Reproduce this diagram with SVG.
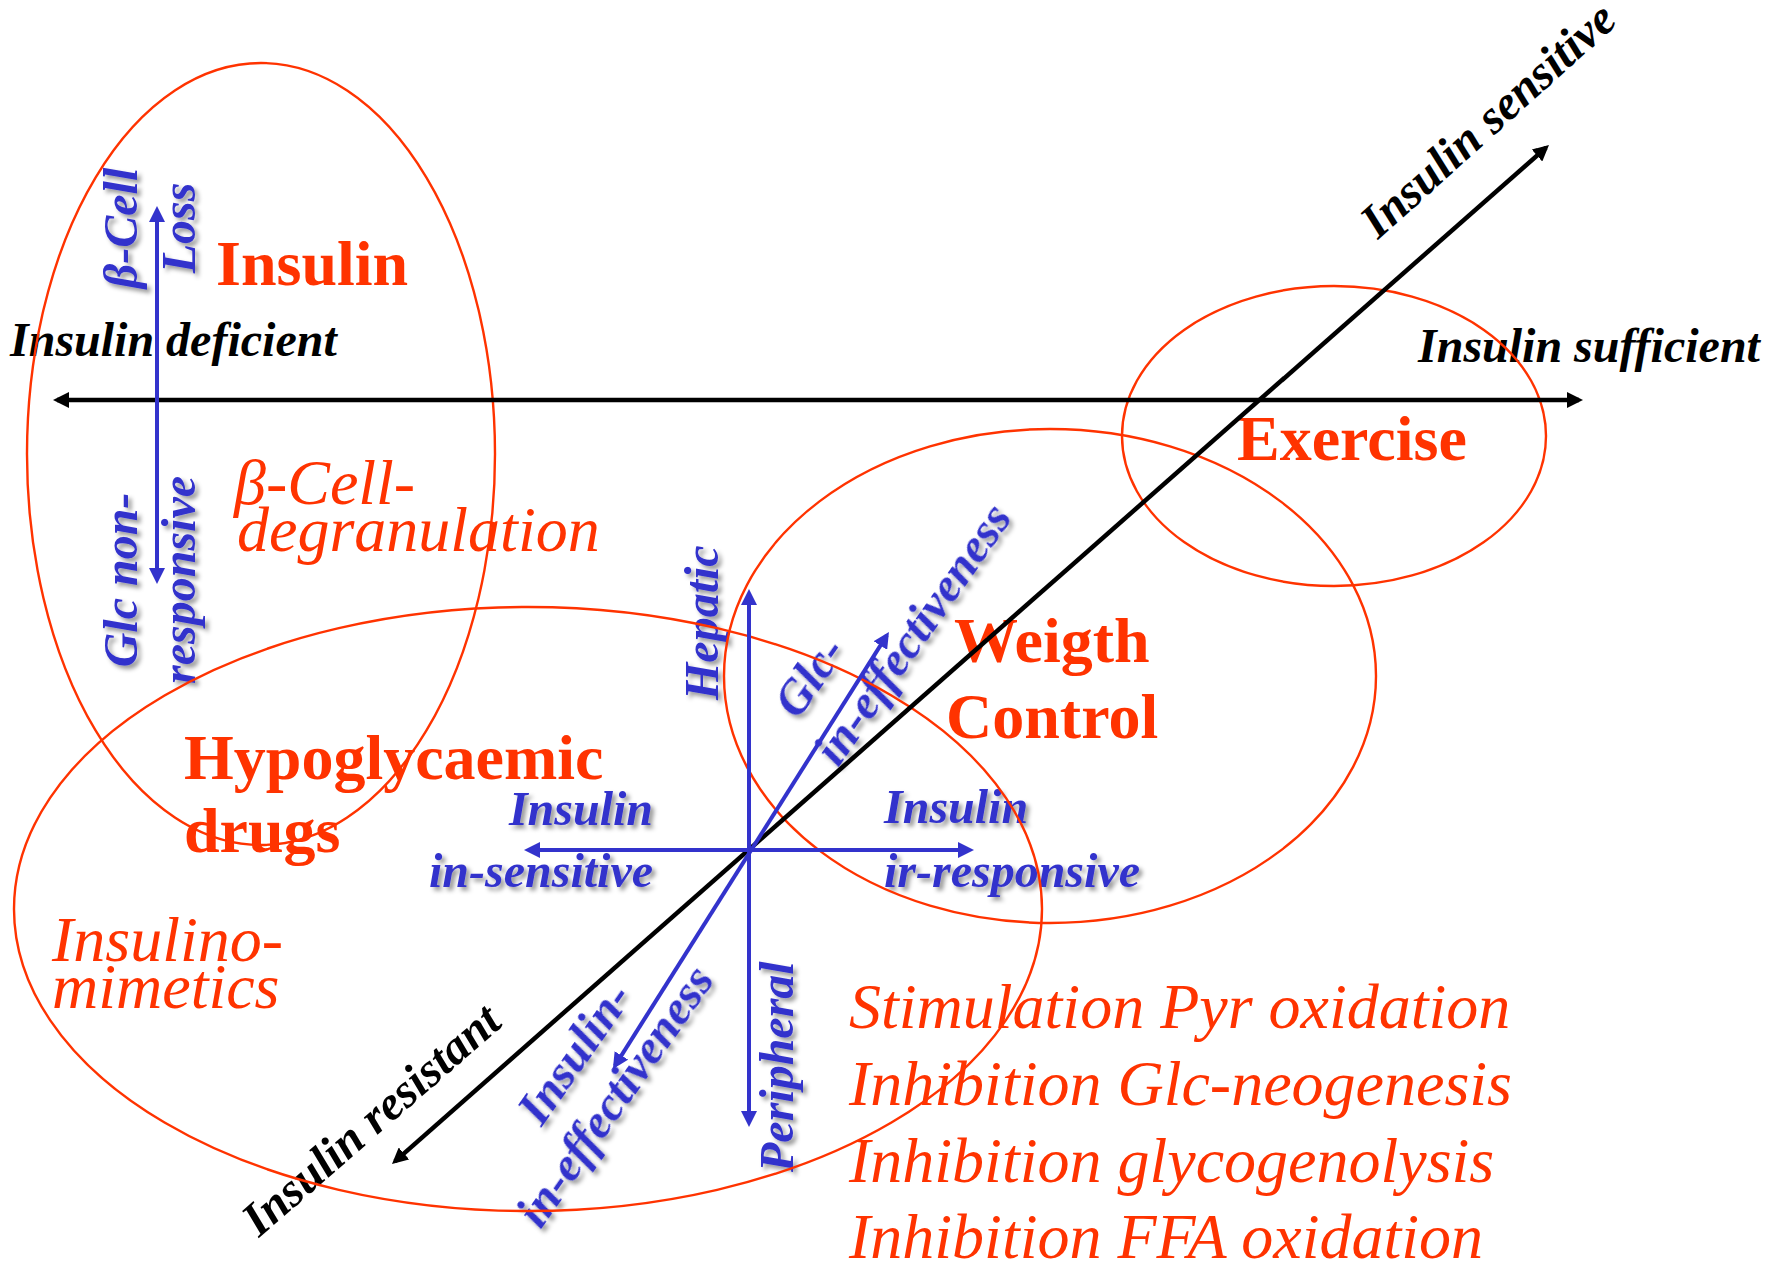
<svg xmlns="http://www.w3.org/2000/svg" width="1779" height="1263" viewBox="0 0 1779 1263">
<defs>
<style>
.bi{font-family:"Liberation Serif","Times New Roman",serif;font-weight:bold;font-style:italic;font-size:48px}
.blk{fill:#000}
.blu{fill:#3333CC}
.rb{font-family:"Liberation Serif","Times New Roman",serif;font-weight:bold;font-size:64px;fill:#FF3300}
.ri{font-family:"Liberation Serif","Times New Roman",serif;font-style:italic;font-size:64px;fill:#FF3300}
.ell{fill:none;stroke:#FF3300;stroke-width:2.4}
.ax{stroke:#000;stroke-width:4.5;fill:none}
.bl{stroke:#3333CC;stroke-width:4;fill:none}
</style>
<marker id="ak" viewBox="0 0 16 16" refX="12" refY="8" markerWidth="16" markerHeight="16" markerUnits="userSpaceOnUse" orient="auto-start-reverse"><path d="M0,0 L16,8 L0,16 z" fill="#000"/></marker>
<marker id="ab" viewBox="0 0 16 16" refX="12" refY="8" markerWidth="16" markerHeight="16" markerUnits="userSpaceOnUse" orient="auto-start-reverse"><path d="M0,0 L16,8 L0,16 z" fill="#3333CC"/></marker>
<filter id="sh" x="-20%" y="-20%" width="140%" height="140%"><feDropShadow dx="3.5" dy="3.5" stdDeviation="2" flood-color="#000" flood-opacity="0.4"/></filter>
</defs>
<rect width="1779" height="1263" fill="#fff"/>

<g id="axis-labels">
<text class="bi blk" x="10" y="356">Insulin deficient</text>
<text class="bi blk" x="1418" y="362">Insulin sufficient</text>
<text class="bi blk" transform="translate(1378,240) rotate(-42)">Insulin sensitive</text>
<text class="bi blk" transform="translate(259,1238) rotate(-41)">Insulin resistant</text>
</g>

<g id="blue-labels" filter="url(#sh)">
<g transform="translate(137,228) rotate(-90)" text-anchor="middle">
<text class="bi blu" x="0" y="0">β-Cell</text>
<text class="bi blu" x="0" y="58">Loss</text>
</g>
<g transform="translate(137,580) rotate(-90)" text-anchor="middle">
<text class="bi blu" x="0" y="0">Glc non-</text>
<text class="bi blu" x="0" y="58">responsive</text>
</g>
<text class="bi blu" transform="translate(718,700) rotate(-90)">Hepatic</text>
<text class="bi blu" transform="translate(793,1172) rotate(-90)">Peripheral</text>
<g transform="translate(838,768) rotate(-55)">
<text class="bi blu" x="16" y="-60">Glc-</text>
<text class="bi blu" x="0" y="0">in-effectiveness</text>
</g>
<g transform="translate(628,1105) rotate(-55)" text-anchor="middle">
<text class="bi blu" x="12" y="-58">Insulin-</text>
<text class="bi blu" x="0" y="0">in-effectiveness</text>
</g>
<g text-anchor="end">
<text class="bi blu" x="653" y="825">Insulin</text>
<text class="bi blu" x="653" y="887">in-sensitive</text>
</g>
<text class="bi blu" x="884" y="823">Insulin</text>
<text class="bi blu" x="884" y="887">ir-responsive</text>
</g>

<g id="node-insulin">
<ellipse class="ell" cx="261" cy="454" rx="234" ry="391"/>
<text class="rb" x="216" y="285">Insulin</text>
<text class="ri" x="234" y="504">β-Cell-</text>
<text class="ri" x="237" y="551">degranulation</text>
</g>

<g id="node-hypoglycaemic">
<ellipse class="ell" cx="528" cy="909" rx="514" ry="302"/>
<text class="rb" x="184" y="779">Hypoglycaemic</text>
<text class="rb" x="184" y="852">drugs</text>
<text class="ri" x="52" y="961">Insulino-</text>
<text class="ri" x="52" y="1008">mimetics</text>
</g>

<g id="node-weight">
<ellipse class="ell" cx="1050" cy="676" rx="326" ry="247"/>
<text class="rb" x="954" y="662">Weigth</text>
<text class="rb" x="946" y="738">Control</text>
</g>

<g id="node-exercise">
<ellipse class="ell" cx="1334" cy="436" rx="212" ry="150"/>
<text class="rb" x="1237" y="460">Exercise</text>
</g>

<g id="effects">
<text class="ri" x="849" y="1028">Stimulation Pyr oxidation</text>
<text class="ri" x="849" y="1105">Inhibition Glc-neogenesis</text>
<text class="ri" x="849" y="1182">Inhibition glycogenolysis</text>
<text class="ri" x="849" y="1258">Inhibition FFA oxidation</text>
</g>

<g id="connectors">
<line class="ax" x1="57" y1="400" x2="1579" y2="400" marker-start="url(#ak)" marker-end="url(#ak)"/>
<line class="ax" x1="395" y1="1161.4" x2="1546" y2="147.6" marker-start="url(#ak)" marker-end="url(#ak)"/>
<line class="bl" x1="157" y1="210" x2="157" y2="580" marker-start="url(#ab)" marker-end="url(#ab)"/>
<line class="bl" x1="749" y1="593" x2="749" y2="1123" marker-start="url(#ab)" marker-end="url(#ab)"/>
<line class="bl" x1="528" y1="850" x2="970" y2="850" marker-start="url(#ab)" marker-end="url(#ab)"/>
<line class="bl" x1="615" y1="1065.6" x2="886.8" y2="635.4" marker-start="url(#ab)" marker-end="url(#ab)"/>
</g>
</svg>
